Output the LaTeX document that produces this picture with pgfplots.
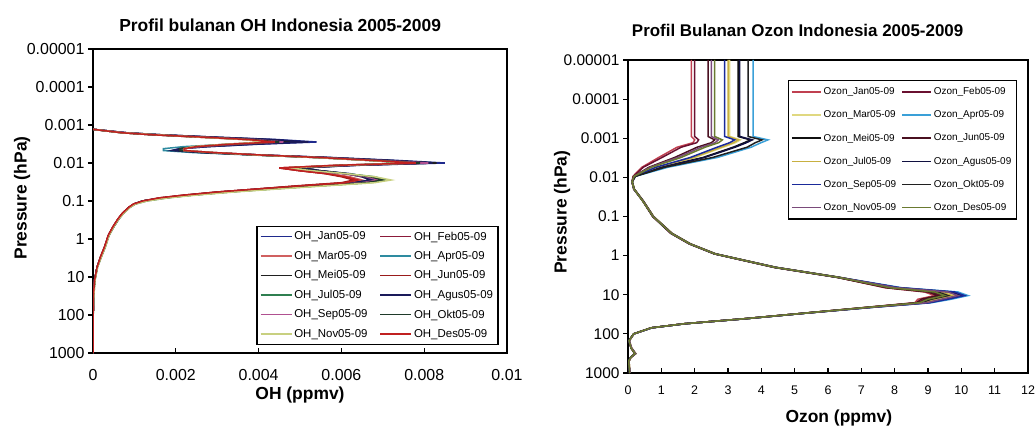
\documentclass[border=0pt]{standalone}
\usepackage{fontspec}
\setmainfont{Liberation Sans}
\usepackage{pgfplots}
\usepackage{pgfplotstable}
\pgfplotsset{compat=1.18}

\definecolor{ohJan}{HTML}{1F2A8C}
\definecolor{ohFeb}{HTML}{8B1A3A}
\definecolor{ohMar}{HTML}{D06060}
\definecolor{ohApr}{HTML}{2E8BA0}
\definecolor{ohMei}{HTML}{202020}
\definecolor{ohJun}{HTML}{9A1B1B}
\definecolor{ohJul}{HTML}{2F7F50}
\definecolor{ohAgus}{HTML}{1A1A5A}
\definecolor{ohSep}{HTML}{B05090}
\definecolor{ohOkt}{HTML}{1F3A2A}
\definecolor{ohNov}{HTML}{C8D080}
\definecolor{ohDes}{HTML}{C02020}

\definecolor{ozJan}{HTML}{C04050}
\definecolor{ozFeb}{HTML}{6A1030}
\definecolor{ozMar}{HTML}{E0D880}
\definecolor{ozApr}{HTML}{3AA0D8}
\definecolor{ozMei}{HTML}{101010}
\definecolor{ozJun}{HTML}{4A1020}
\definecolor{ozJul}{HTML}{C8B040}
\definecolor{ozAgus}{HTML}{101040}
\definecolor{ozSep}{HTML}{1A2A9A}
\definecolor{ozOkt}{HTML}{202020}
\definecolor{ozNov}{HTML}{7A4A7A}
\definecolor{ozDes}{HTML}{6A7A30}

% OH profiles (ppmv) vs pressure (hPa)
\pgfplotstableread{
p       Jan     Feb     Mar     Apr     Mei     Jun     Jul     Agus    Sep     Okt     Nov     Des
0.0013  0       0       0       0       0       0       0       0       0       0       0       0
0.0016  0.0008  0.0007  0.0007  0.0008  0.0008  0.0007  0.0007  0.0008  0.0008  0.0007  0.0007  0.0007
0.0018  0.0016  0.0015  0.0014  0.0015  0.0016  0.0014  0.0015  0.0016  0.0015  0.0014  0.0015  0.0014
0.0021  0.0030  0.0027  0.0026  0.0028  0.0029  0.0026  0.0027  0.0030  0.0028  0.0027  0.0026  0.0027
0.0024  0.0044  0.0038  0.0036  0.0040  0.0041  0.0037  0.0038  0.0043  0.0039  0.0038  0.0036  0.0037
0.0028  0.0054  0.0045  0.0042  0.0047  0.0049  0.0044  0.0045  0.0052  0.0046  0.0045  0.0042  0.0044
0.0032  0.0040  0.0034  0.0032  0.0033  0.0036  0.0033  0.0034  0.0039  0.0035  0.0034  0.0032  0.0033
0.0037  0.0028  0.0025  0.0024  0.0022  0.0026  0.0025  0.0025  0.0028  0.0026  0.0025  0.0024  0.0025
0.0042  0.0021  0.0021  0.0021  0.0017  0.0021  0.0022  0.0021  0.0021  0.0022  0.0021  0.0022  0.0022
0.0047  0.0019  0.0020  0.0021  0.0017  0.0020  0.0022  0.0021  0.0019  0.0022  0.0021  0.0022  0.0022
0.0053  0.0026  0.0027  0.0028  0.0024  0.0027  0.0029  0.0028  0.0026  0.0029  0.0028  0.0029  0.0029
0.0062  0.0041  0.0040  0.0040  0.0039  0.0041  0.0041  0.0040  0.0041  0.0041  0.0040  0.0040  0.0041
0.0072  0.0058  0.0055  0.0054  0.0055  0.0057  0.0055  0.0054  0.0057  0.0056  0.0055  0.0054  0.0055
0.0085  0.0073  0.0068  0.0066  0.0069  0.0071  0.0067  0.0066  0.0071  0.0069  0.0068  0.0066  0.0067
0.0100  0.0085  0.0080  0.0077  0.0079  0.0083  0.0078  0.0076  0.0082  0.0081  0.0079  0.0077  0.0078
0.0115  0.0064  0.0061  0.0058  0.0062  0.0063  0.0059  0.0060  0.0063  0.0062  0.0061  0.0060  0.0059
0.0135  0.0050  0.0047  0.0045  0.0049  0.0050  0.0045  0.0047  0.0050  0.0048  0.0048  0.0047  0.0045
0.0160  0.0055  0.0051  0.0050  0.0054  0.0055  0.0050  0.0053  0.0055  0.0053  0.0054  0.0053  0.0050
0.0190  0.0062  0.0057  0.0057  0.0061  0.0061  0.0056  0.0061  0.0061  0.0060  0.0061  0.0061  0.0056
0.0230  0.0066  0.0061  0.0062  0.0067  0.0065  0.0060  0.0068  0.0065  0.0066  0.0067  0.0068  0.0061
0.0280  0.0068  0.0064  0.0065  0.0070  0.0067  0.0063  0.0071  0.0067  0.0069  0.0070  0.0072  0.0064
0.0330  0.0063  0.0061  0.0062  0.0066  0.0063  0.0060  0.0067  0.0063  0.0065  0.0066  0.0068  0.0061
0.0400  0.0051  0.0050  0.0051  0.0054  0.0052  0.0049  0.0055  0.0052  0.0053  0.0054  0.0056  0.0050
0.0480  0.0041  0.0040  0.0041  0.0043  0.0042  0.0040  0.0044  0.0041  0.0042  0.0043  0.0045  0.0040
0.0580  0.0031  0.0030  0.0031  0.0032  0.0031  0.0030  0.0033  0.0031  0.0032  0.0033  0.0034  0.0030
0.0700  0.0023  0.0022  0.0023  0.0024  0.0023  0.0022  0.0024  0.0023  0.0024  0.0024  0.0025  0.0022
0.0830  0.0017  0.0016  0.0017  0.0017  0.0017  0.0016  0.0018  0.0017  0.0017  0.0017  0.0018  0.0016
0.1000  0.0012  0.0012  0.0012  0.0012  0.0012  0.0012  0.0013  0.0012  0.0012  0.0012  0.0013  0.0012
0.1200  0.00100 0.00098 0.00100 0.00101 0.00100 0.00098 0.00103 0.00100 0.00101 0.00101 0.00103 0.00098
0.1450  0.00088 0.00087 0.00088 0.00089 0.00088 0.00087 0.00090 0.00088 0.00089 0.00089 0.00090 0.00087
0.2100  0.00072 0.00071 0.00072 0.00073 0.00072 0.00071 0.00074 0.00072 0.00073 0.00073 0.00074 0.00071
0.3000  0.00061 0.00060 0.00061 0.00062 0.00061 0.00060 0.00062 0.00061 0.00061 0.00062 0.00062 0.00060
0.4800  0.00049 0.00048 0.00049 0.00050 0.00049 0.00048 0.00050 0.00049 0.00049 0.00050 0.00050 0.00048
0.8000  0.00038 0.00037 0.00038 0.00038 0.00038 0.00037 0.00039 0.00038 0.00038 0.00038 0.00039 0.00037
1.6     0.00029 0.00028 0.00029 0.00029 0.00029 0.00028 0.00030 0.00029 0.00029 0.00029 0.00030 0.00028
3.0     0.00019 0.00018 0.00019 0.00019 0.00019 0.00018 0.00020 0.00019 0.00019 0.00019 0.00020 0.00018
5.5     0.00010 0.00010 0.00010 0.00010 0.00010 0.00010 0.00011 0.00010 0.00010 0.00010 0.00011 0.00010
12      0.00004 0.00004 0.00004 0.00004 0.00004 0.00004 0.00005 0.00004 0.00004 0.00004 0.00005 0.00004
30      0.00001 0.00001 0.00001 0.00001 0.00001 0.00001 0.00002 0.00001 0.00001 0.00001 0.00002 0.00001
100     0.000005 0.000005 0.000005 0.000005 0.000005 0.000005 0.000005 0.000005 0.000005 0.000005 0.000005 0.000005
1000    0       0       0       0       0       0       0       0       0       0       0       0
}\ohdata

% Ozone profiles (ppmv) vs pressure (hPa)
\pgfplotstableread{
p       Jan   Feb   Mar   Apr   Mei   Jun   Jul   Agus  Sep   Okt   Nov   Des
0.00001 1.90  2.00  3.05  3.75  3.30  2.40  3.00  3.35  2.90  3.60  2.50  2.60
0.0009  1.90  2.00  3.05  3.75  3.30  2.40  3.00  3.35  2.90  3.60  2.50  2.60
0.0011  2.00  2.12  3.37  4.20  3.67  2.60  3.31  3.73  3.20  4.02  2.71  2.83
0.0013  1.95  2.06  3.22  3.99  3.49  2.50  3.16  3.55  3.05  3.82  2.61  2.72
0.0017  1.47  1.59  2.85  3.69  3.15  2.07  2.79  3.21  2.67  3.57  2.19  2.31
0.0031  0.92  1.02  2.01  2.68  2.25  1.40  1.97  2.30  1.87  2.54  1.49  1.59
0.0055  0.42  0.46  0.90  1.20  1.00  0.63  0.88  1.03  0.84  1.11  0.67  0.71
0.0094  0.15  0.16  0.20  0.22  0.21  0.17  0.20  0.21  0.19  0.22  0.18  0.18
0.0130  0.12  0.12  0.13  0.13  0.12  0.12  0.13  0.12  0.12  0.13  0.12  0.12
0.0200  0.18  0.17  0.19  0.18  0.18  0.18  0.19  0.18  0.18  0.19  0.18  0.18
0.0400  0.45  0.44  0.46  0.45  0.45  0.44  0.46  0.45  0.45  0.46  0.45  0.44
0.1000  0.75  0.74  0.77  0.76  0.75  0.74  0.77  0.76  0.75  0.76  0.76  0.75
0.2700  1.30  1.28  1.33  1.31  1.30  1.29  1.32  1.31  1.30  1.32  1.31  1.30
0.5000  1.85  1.83  1.88  1.86  1.85  1.84  1.87  1.86  1.85  1.87  1.86  1.85
0.9000  2.60  2.58  2.64  2.62  2.60  2.59  2.63  2.61  2.60  2.62  2.61  2.60
2.0     4.40  4.38  4.46  4.44  4.41  4.39  4.45  4.43  4.42  4.44  4.43  4.41
3.6     6.30  6.27  6.38  6.35  6.31  6.28  6.36  6.33  6.32  6.34  6.33  6.31
6.6     7.70  7.80  8.00  8.20  7.85  7.75  7.95  8.10  8.15  7.90  8.05  7.85
8.5     8.90  9.10  9.50  9.90  9.20  9.00  9.40  9.70  9.80  9.30  9.60  9.20
10.5    9.20  9.40  9.80  10.20 9.50  9.30  9.70  10.00 10.10 9.60  9.90  9.50
13      8.70  8.90  9.30  9.70  9.00  8.80  9.20  9.50  9.60  9.10  9.40  9.00
16      8.60  8.70  8.90  9.10  8.75  8.65  8.85  9.00  9.05  8.80  8.95  8.75
21      7.14  7.18  7.26  7.34  7.20  7.16  7.24  7.30  7.32  7.22  7.28  7.20
29      5.38  5.40  5.42  5.45  5.40  5.39  5.42  5.43  5.44  5.41  5.43  5.40
41      3.48  3.50  3.52  3.54  3.50  3.49  3.52  3.53  3.53  3.51  3.52  3.50
55      1.68  1.70  1.71  1.72  1.70  1.69  1.71  1.72  1.72  1.70  1.71  1.70
70      0.70  0.70  0.71  0.72  0.70  0.70  0.71  0.71  0.72  0.70  0.71  0.70
100     0.17  0.17  0.18  0.18  0.17  0.17  0.18  0.17  0.18  0.17  0.18  0.17
150     0.03  0.03  0.04  0.03  0.03  0.03  0.04  0.03  0.03  0.03  0.04  0.03
230     0.10  0.09  0.11  0.10  0.10  0.09  0.11  0.10  0.10  0.10  0.11  0.09
320     0.22  0.20  0.24  0.22  0.22  0.21  0.23  0.22  0.22  0.22  0.23  0.21
400     0.08  0.08  0.09  0.08  0.08  0.08  0.09  0.08  0.08  0.08  0.09  0.08
500     0.02  0.02  0.03  0.02  0.02  0.02  0.03  0.02  0.02  0.02  0.03  0.02
1000    0.05  0.05  0.06  0.05  0.05  0.05  0.06  0.05  0.05  0.05  0.06  0.05
}\ozdata

\begin{document}
\begin{tikzpicture}
\useasboundingbox (0,0) rectangle (1035bp,432bp);

% ---------------- Left: OH ----------------
\begin{axis}[
  scale only axis,
  at={(93bp,79bp)}, anchor=south west,
  width=414bp, height=304bp,
  ymode=log, y dir=reverse, ymin=1e-5, ymax=1000,
  ytick={1e-5,1e-4,1e-3,1e-2,1e-1,1,10,100,1000},
  yticklabels={0.00001,0.0001,0.001,0.01,0.1,1,10,100,1000},
  yminorticks=false,
  axis line style={line width=1.4bp, black},
  tick style={line width=1.1bp, black},
  major tick length=5bp,
  ytick pos=left, xtick pos=bottom,
  ytick align=outside, xtick align=inside,
  yticklabel style={font=\fontsize{16}{16}\selectfont},
  xmin=0, xmax=0.01,
  xtick={0,0.002,0.004,0.006,0.008,0.01},
  xticklabels={0,0.002,0.004,0.006,0.008,0.01},
  scaled x ticks=false,
  xticklabel style={font=\fontsize{16}{16}\selectfont, yshift=-13bp},
  title={Profil bulanan OH Indonesia 2005-2009},
  title style={at={(axis description cs:0.452,1.058)}, anchor=center, font=\bfseries\fontsize{17.5}{20}\selectfont},
  xlabel={OH (ppmv)},
  xlabel style={at={(axis description cs:0.5,-0.138)}, anchor=center, font=\bfseries\fontsize{17.5}{20}\selectfont},
  ylabel={Pressure (hPa)},
  ylabel style={at={(axis description cs:-0.1715,0.51)}, anchor=center, font=\bfseries\fontsize{17.5}{20}\selectfont},
  every axis plot post/.append style={line width=1.5bp},
  legend columns=2,
  legend cell align=left,
  legend image code/.code={\draw[#1] (0bp,0bp) -- (31bp,0bp);},
  legend style={at={(0.98,0.026)}, anchor=south east,
    font=\fontsize{11.5}{13}\selectfont,
    draw=black, line width=1.4bp, fill=white,
    inner xsep=3bp, inner ysep=3.5bp, row sep=5.8bp},
  legend style={/tikz/every even column/.append style={column sep=10bp}},
]
\addplot[color=ohJan] table[x=Jan,y=p]{\ohdata}; \addlegendentry{OH\_Jan05-09}
\addplot[color=ohFeb] table[x=Feb,y=p]{\ohdata}; \addlegendentry{OH\_Feb05-09}
\addplot[color=ohMar] table[x=Mar,y=p]{\ohdata}; \addlegendentry{OH\_Mar05-09}
\addplot[color=ohApr] table[x=Apr,y=p]{\ohdata}; \addlegendentry{OH\_Apr05-09}
\addplot[color=ohMei] table[x=Mei,y=p]{\ohdata}; \addlegendentry{OH\_Mei05-09}
\addplot[color=ohJun] table[x=Jun,y=p]{\ohdata}; \addlegendentry{OH\_Jun05-09}
\addplot[color=ohJul] table[x=Jul,y=p]{\ohdata}; \addlegendentry{OH\_Jul05-09}
\addplot[color=ohAgus] table[x=Agus,y=p]{\ohdata}; \addlegendentry{OH\_Agus05-09}
\addplot[color=ohSep] table[x=Sep,y=p]{\ohdata}; \addlegendentry{OH\_Sep05-09}
\addplot[color=ohOkt] table[x=Okt,y=p]{\ohdata}; \addlegendentry{OH\_Okt05-09}
\addplot[color=ohNov] table[x=Nov,y=p]{\ohdata}; \addlegendentry{OH\_Nov05-09}
\addplot[color=ohDes] table[x=Des,y=p]{\ohdata}; \addlegendentry{OH\_Des05-09}
\end{axis}

% ---------------- Right: Ozone ----------------
\begin{axis}[
  scale only axis,
  at={(628bp,59bp)}, anchor=south west,
  width=400bp, height=313bp,
  ymode=log, y dir=reverse, ymin=1e-5, ymax=1000,
  ytick={1e-5,1e-4,1e-3,1e-2,1e-1,1,10,100,1000},
  yticklabels={0.00001,0.0001,0.001,0.01,0.1,1,10,100,1000},
  yminorticks=false,
  axis line style={line width=1.4bp, black},
  tick style={line width=1.1bp, black},
  major tick length=5bp,
  ytick pos=left, xtick pos=bottom,
  ytick align=outside, xtick align=inside,
  yticklabel style={font=\fontsize{15.5}{15.5}\selectfont},
  xmin=0, xmax=12,
  xtick={0,1,2,3,4,5,6,7,8,9,10,11,12},
  xticklabels={0,1,2,3,4,5,6,7,8,9,10,11,12},
  xticklabel style={font=\fontsize{12.5}{12.5}\selectfont, yshift=-9bp},
  title={Profil Bulanan Ozon Indonesia 2005-2009},
  title style={at={(axis description cs:0.424,1.074)}, anchor=center, font=\bfseries\fontsize{17}{20}\selectfont},
  xlabel={Ozon (ppmv)},
  xlabel style={at={(axis description cs:0.527,-0.144)}, anchor=center, font=\bfseries\fontsize{17.5}{20}\selectfont},
  ylabel={Pressure (hPa)},
  ylabel style={at={(axis description cs:-0.165,0.514)}, anchor=center, font=\bfseries\fontsize{17.5}{20}\selectfont},
  every axis plot post/.append style={line width=1.5bp},
  legend columns=2,
  legend cell align=left,
  legend image code/.code={\draw[#1] (0bp,0bp) -- (29bp,0bp);},
  legend style={at={(0.9725,0.936)}, anchor=north east,
    font=\fontsize{10}{12}\selectfont,
    draw=black, line width=1.4bp, fill=white,
    inner xsep=3bp, inner ysep=5bp, row sep=10.5bp},
  legend style={/tikz/every even column/.append style={column sep=3bp}},
]
\addplot[color=ozJan] table[x=Jan,y=p]{\ozdata}; \addlegendentry{Ozon\_Jan05-09}
\addplot[color=ozFeb] table[x=Feb,y=p]{\ozdata}; \addlegendentry{Ozon\_Feb05-09}
\addplot[color=ozMar] table[x=Mar,y=p]{\ozdata}; \addlegendentry{Ozon\_Mar05-09}
\addplot[color=ozApr] table[x=Apr,y=p]{\ozdata}; \addlegendentry{Ozon\_Apr05-09}
\addplot[color=ozMei] table[x=Mei,y=p]{\ozdata}; \addlegendentry{Ozon\_Mei05-09}
\addplot[color=ozJun] table[x=Jun,y=p]{\ozdata}; \addlegendentry{Ozon\_Jun05-09}
\addplot[color=ozJul] table[x=Jul,y=p]{\ozdata}; \addlegendentry{Ozon\_Jul05-09}
\addplot[color=ozAgus] table[x=Agus,y=p]{\ozdata}; \addlegendentry{Ozon\_Agus05-09}
\addplot[color=ozSep] table[x=Sep,y=p]{\ozdata}; \addlegendentry{Ozon\_Sep05-09}
\addplot[color=ozOkt] table[x=Okt,y=p]{\ozdata}; \addlegendentry{Ozon\_Okt05-09}
\addplot[color=ozNov] table[x=Nov,y=p]{\ozdata}; \addlegendentry{Ozon\_Nov05-09}
\addplot[color=ozDes] table[x=Des,y=p]{\ozdata}; \addlegendentry{Ozon\_Des05-09}
\end{axis}
\end{tikzpicture}
\end{document}
